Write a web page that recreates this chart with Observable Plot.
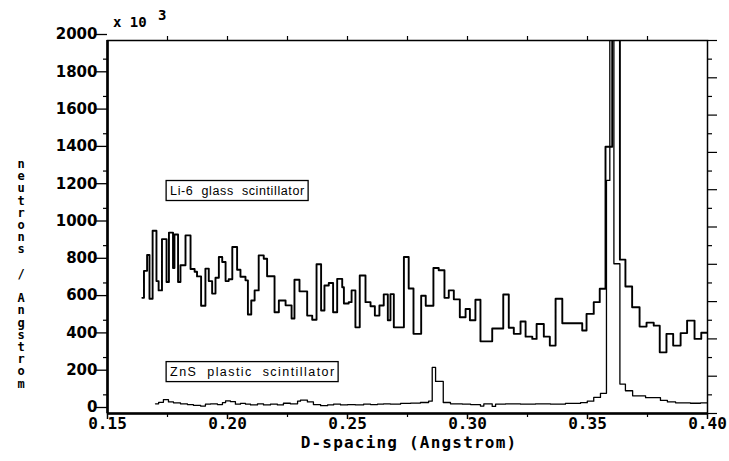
<!DOCTYPE html>
<html><head><meta charset="utf-8">
<script src="https://cdn.jsdelivr.net/npm/d3@7"></script>
<script src="https://cdn.jsdelivr.net/npm/@observablehq/plot@0.6"></script>
<style>body{margin:0;background:#fff;} svg{display:block;}</style>
</head><body><div id="chart"></div>
<script>
// Li-6 glass scintillator histogram: bin start (d-spacing, Angstrom) and neutrons/Angstrom (x10^3)
const liD = [0.1645,0.1652,0.1665,0.1675,0.1688,0.1704,0.1713,0.1727,0.1746,0.1756,
0.1773,0.1779,0.1794,0.1804,0.1825,0.1846,0.1863,0.1873,0.1890,0.1908,
0.1922,0.1936,0.1950,0.1964,0.1978,0.1992,0.2005,0.2020,0.2040,0.2054,
0.2075,0.2085,0.2099,0.2113,0.2130,0.2151,0.2165,0.2196,0.2214,0.2242,
0.2267,0.2279,0.2300,0.2332,0.2353,0.2371,0.2390,0.2404,0.2422,0.2440,
0.2457,0.2478,0.2485,0.2505,0.2517,0.2533,0.2551,0.2575,0.2596,0.2614,
0.2633,0.2651,0.2668,0.2679,0.2693,0.2735,0.2755,0.2775,0.2807,0.2826,
0.2858,0.2880,0.2904,0.2922,0.2943,0.2968,0.2992,0.3010,0.3033,0.3054,
0.3103,0.3149,0.3172,0.3193,0.3221,0.3242,0.3270,0.3288,0.3318,0.3343,
0.3367,0.3395,0.3478,0.3496,0.3526,0.3551,0.3575,0.3603,0.3635,0.3658,
0.3686,0.3717,0.3746,0.3776,0.3801,0.3829,0.3857,0.3888,0.3915,0.3946,
0.3974,0.4000];
const liV = [620,765,850,615,980,710,660,935,705,970,
780,960,705,795,955,775,760,735,578,777,
710,643,728,839,812,710,720,893,771,733,
714,531,606,660,848,830,736,543,606,580,
509,717,655,525,503,800,552,686,700,543,
722,677,590,597,660,462,740,597,575,525,
579,639,500,640,462,839,670,427,631,578,
780,768,620,660,612,516,560,500,610,387,
456,638,460,427,493,412,400,480,412,364,
615,484,445,534,597,669,1430,2400,825,681,
570,466,487,471,328,427,364,431,498,400,
433,433];

// ZnS plastic scintillator histogram
const znD = [0.1700,0.1713,0.1733,0.1754,0.1775,0.1804,0.1833,0.1858,0.1888,0.1908,
0.1929,0.1958,0.1979,0.1992,0.2012,0.2033,0.2054,0.2075,0.2096,0.2125,
0.2150,0.2179,0.2208,0.2233,0.2262,0.2292,0.2304,0.2333,0.2358,0.2388,
0.2417,0.2442,0.2471,0.2500,0.2533,0.2567,0.2596,0.2625,0.2650,0.2679,
0.2721,0.2763,0.2804,0.2838,0.2853,0.2867,0.2899,0.2929,0.2979,0.3013,
0.3054,0.3068,0.3103,0.3117,0.3158,0.3221,0.3283,0.3346,0.3408,0.3471,
0.3499,0.3526,0.3554,0.3579,0.3593,0.3610,0.3635,0.3658,0.3688,0.3742,
0.3804,0.3833,0.3867,0.3929,0.3971,0.4000];
const znV = [52,60,74,62,57,52,48,44,40,50,
52,48,58,68,64,50,54,50,46,52,
46,50,46,55,52,66,72,62,48,42,
46,50,46,48,46,50,48,50,52,50,
54,56,59,66,247,172,59,52,50,48,
40,52,38,50,52,50,52,50,54,58,
66,86,108,1250,2400,803,158,122,95,85,
70,62,57,55,57,57];

const xTicks = [0.15,0.20,0.25,0.30,0.35,0.40];
const xMinor = [0.175,0.225,0.275,0.325,0.375];
const xTop = [0.175,0.20,0.225,0.25,0.275,0.30,0.325,0.35,0.375];
const yTicks = [0,200,400,600,800,1000,1200,1400,1600,1800,2000];
const yMinor = [100,300,500,700,900,1100,1300,1500,1700,1900];
const yLabel = "neutrons / Angstrom";
const xLabel = "D-spacing (Angstrom)";
const labels = [
  {text:"Li-6  glass  scintillator", x:0.1763, y:1195},
  {text:"ZnS  plastic  scintillator", x:0.1763, y:224}
];

const li = liD.map((d,i)=>({d, v:liV[i]}));
const zn = znD.map((d,i)=>({d, v:znV[i]}));
const none = () => "";
const mono = "DejaVu Sans Mono";

const plot = Plot.plot({
  width:729, height:461,
  marginLeft:107, marginRight:22, marginTop:40, marginBottom:48,
  x:{domain:[0.15,0.40]},
  y:{domain:[0,2000]},
  style:{background:"#fff", color:"#000", overflow:"visible"},
  marks:[
    Plot.line(zn,{x:"d", y:"v", curve:"step-after", stroke:"#000", strokeWidth:1.3, clip:true}),
    Plot.line(li,{x:"d", y:"v", curve:"step-after", stroke:"#000", strokeWidth:1.9, clip:true}),
    Plot.frame({stroke:"#000", strokeWidth:1.5}),
    Plot.ruleX([0.15],{stroke:"#000", strokeWidth:2.6}),
    Plot.ruleY([0],{stroke:"#000", strokeWidth:2.6}),
    Plot.axisX({ticks:xTicks, tickFormat:d3.format(".2f"), tickSize:6, tickPadding:-2, label:null,
      fontSize:16, fontFamily:mono, fontWeight:"bold", strokeWidth:1.5}),
    Plot.axisX({ticks:xMinor, tickFormat:none, tickSize:4, label:null, strokeWidth:1.2}),
    Plot.axisX({anchor:"top", ticks:xTop, tickFormat:none, tickSize:5, label:null, strokeWidth:1.2}),
    Plot.axisY({ticks:yTicks, tickFormat:d3.format("d"), tickSize:11, tickPadding:-1, dy:-6, label:null,
      fontSize:15, fontFamily:"DejaVu Sans", fontWeight:"bold", strokeWidth:1.3}),
    Plot.axisY({ticks:yMinor, tickFormat:none, tickSize:4, label:null, strokeWidth:1.2}),
    Plot.axisY({anchor:"right", ticks:yTicks, tickFormat:none, tickSize:9, label:null, strokeWidth:1.2}),
    Plot.axisY({anchor:"right", ticks:yMinor, tickFormat:none, tickSize:4, label:null, strokeWidth:1.2})
  ]
});
document.getElementById("chart").append(plot);

const svg = d3.select(plot);
const sx = plot.scale("x"), sy = plot.scale("y");
const textWidths = [134, 164];

labels.forEach((l, i) => {
  const g = svg.append("g");
  const t = g.append("text")
    .attr("x", sx.apply(l.x)).attr("y", sy.apply(l.y))
    .attr("dy","0.35em").attr("text-anchor","start")
    .attr("font-family","Liberation Sans").attr("font-size",12.5)
    .attr("textLength", textWidths[i]).attr("lengthAdjust","spacing")
    .style("white-space","pre")
    .attr("fill","#000").text(l.text);
  const b = t.node().getBBox();
  g.insert("rect","text").attr("x",b.x-4).attr("y",b.y-3).attr("width",b.width+8).attr("height",b.height+6)
    .attr("fill","#fff").attr("stroke","#000").attr("stroke-width",1.3);
});

// axis title
svg.append("text").attr("x",409).attr("y",448).attr("text-anchor","middle")
  .attr("font-family",mono).attr("font-size",16).attr("font-weight","bold")
  .attr("letter-spacing","1.2px").attr("fill","#000").text(xLabel);

// x10^3 multiplier
svg.append("text").attr("x",113).attr("y",27).attr("text-anchor","start").attr("font-family",mono).attr("font-size",14)
  .attr("font-weight","bold").attr("fill","#000").style("white-space","pre").text("x 10");
svg.append("text").attr("x",158).attr("y",20).attr("text-anchor","start").attr("font-family",mono).attr("font-size",14)
  .attr("font-weight","bold").attr("fill","#000").text("3");

// stacked vertical y label
const yl = svg.append("text").attr("font-family",mono).attr("font-size",12).attr("font-weight","bold")
  .attr("text-anchor","middle").attr("fill","#000");
[...yLabel].forEach((c,i) => {
  yl.append("tspan").attr("x",21).attr("y",168 + i*12.2).text(c === " " ? "\u00a0" : c);
});
</script></body></html>
